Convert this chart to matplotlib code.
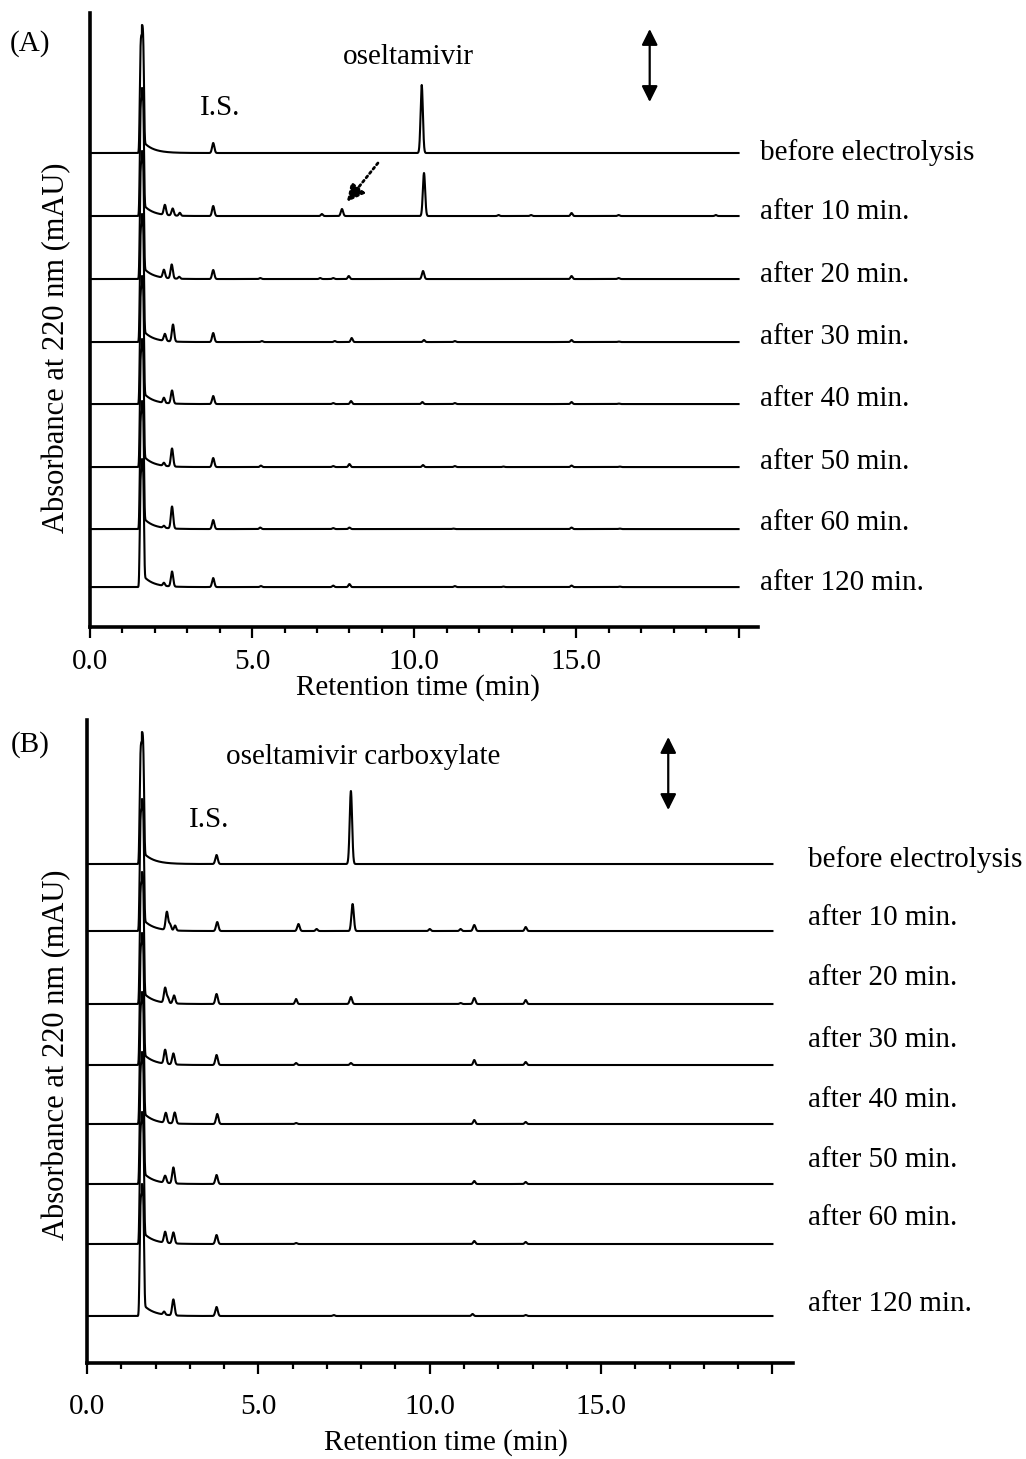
import numpy as np
import matplotlib
matplotlib.use("Agg")
import matplotlib.pyplot as plt

plt.rcParams['font.family'] = ['Liberation Serif', 'DejaVu Serif']

# labels for each trace, top to bottom
trace_labels = ["before electrolysis", "after 10 min.", "after 20 min.",
                "after 30 min.", "after 40 min.", "after 50 min.",
                "after 60 min.", "after 120 min."]

# peak tables (retention time in min, peak height in mAU, arbitrary scale)
# panel A - oseltamivir
peaks_a = [
    [(3.80, 10), (10.23, 68)],
    [(2.31, 10), (2.55, 7), (2.77, 3), (3.80, 10), (7.15, 2), (7.77, 7),
     (10.30, 43), (12.6, 1), (13.6, 1), (14.85, 3), (16.3, 1), (19.3, 1)],
    [(2.28, 8), (2.52, 14), (2.75, 2), (3.80, 9), (5.25, 1), (7.10, 1),
     (7.50, 1), (7.98, 3), (10.27, 8), (14.85, 3), (16.3, 1)],
    [(2.31, 7), (2.56, 17), (3.80, 9), (5.30, 1), (7.55, 1), (8.07, 4),
     (10.30, 2), (11.25, 1), (14.85, 2), (16.3, 0.5)],
    [(2.28, 5), (2.53, 13), (3.80, 8), (7.50, 1), (8.05, 3), (10.25, 2),
     (11.25, 1), (14.85, 2), (16.3, 0.5)],
    [(2.28, 3), (2.53, 18), (3.80, 9), (5.27, 1.5), (7.50, 1), (8.00, 3),
     (10.27, 2), (11.25, 1), (12.75, 0.5), (14.85, 1.5), (16.33, 0.5)],
    [(2.28, 2), (2.53, 22), (3.80, 9), (5.25, 1.5), (7.50, 1), (8.00, 1.5),
     (11.2, 0.5), (14.85, 1.5), (16.33, 0.5)],
    [(2.28, 3), (2.53, 15), (3.80, 9), (5.27, 1), (7.50, 1.5), (8.00, 3),
     (11.25, 1), (12.75, 0.5), (14.85, 1.5), (16.33, 0.5)],
]
# panel B - oseltamivir carboxylate
peaks_b = [
    [(3.78, 9), (7.70, 73)],
    [(2.33, 18), (2.42, 6), (2.57, 5), (3.80, 9), (6.17, 7), (6.70, 2),
     (7.75, 27), (10.0, 2), (10.9, 2), (11.3, 6), (12.8, 4)],
    [(2.28, 15), (2.36, 5), (2.54, 8), (3.78, 10), (6.10, 5), (7.70, 7),
     (10.9, 1), (11.3, 6), (12.8, 4)],
    [(2.28, 14), (2.52, 11), (3.78, 10), (6.10, 2), (7.70, 2), (11.3, 5),
     (12.8, 3)],
    [(2.30, 10), (2.56, 11), (3.80, 10), (6.10, 1), (11.3, 4), (12.8, 2)],
    [(2.28, 7), (2.52, 16), (3.78, 9), (11.3, 3), (12.8, 2)],
    [(2.28, 11), (2.52, 11), (3.78, 9), (6.10, 1), (11.3, 3), (12.8, 2)],
    [(2.25, 3), (2.52, 16), (3.78, 9), (7.20, 1), (11.25, 2), (12.8, 1)],
]
# solvent front (time, height)
solvent_a = (1.60, 118)
solvent_b = (1.60, 122)
solvent_tail = 10

# stacking offsets of each trace (top to bottom)
offsets_a = [474, 411, 348, 285, 223, 160, 98, 40]
offsets_b = [499, 432, 359, 298, 239, 179, 119, 47]
label_y_a = [474, 415, 352, 290, 228, 165, 104, 44]
label_y_b = [503, 445, 385, 323, 263, 203, 145, 59]

run_time = 20.0


def build_trace(peak_list, solvent, t):
    """
    Build chromatogram from the peak table
    :param peak_list: list of (time, height)
    :param solvent: (time, height) of solvent front
    :param t: time array
    :return: signal array
    """
    sig = np.zeros_like(t)
    s_time, s_height = solvent
    # solvent front with steep sides
    sig += s_height * np.exp(-0.5 * ((t - s_time) / 0.06) ** 4)
    tail = solvent_tail * np.exp(-(t - s_time - 0.08) / 0.3)
    sig += np.where(t > s_time, np.minimum(tail, solvent_tail), 0)
    for rt, h in peak_list:
        width = 0.035 if h > 5 else 0.03
        sig += h * np.exp(-0.5 * ((t - rt) / width) ** 2)
    return sig


def style_axis(ax, ylim, pad):
    """
    Set the spines and ticks to look like the original
    """
    ax.set_xlim(0, 20.6)
    ax.set_ylim(0, ylim)
    for side in ["top", "right"]:
        ax.spines[side].set_visible(False)
    ax.spines["left"].set_linewidth(2.6)
    ax.spines["bottom"].set_linewidth(2.6)
    ax.set_yticks([])
    ax.set_xticks([0, 5, 10, 15, 20])
    ax.set_xticklabels(["0.0", "5.0", "10.0", "15.0", ""])
    ax.set_xticks(np.arange(0, 21, 1), minor=True)
    ax.tick_params(axis="x", which="major", direction="out", length=8,
                   width=1.6, labelsize=21, pad=pad)
    ax.tick_params(axis="x", which="minor", direction="out", length=4.5,
                   width=1.6)


def plot_panel(ax, peaks, solvent, offsets, label_y, label_x):
    t = np.arange(0, run_time + 0.0025, 0.0025)
    for pk, off, lab, ly in zip(peaks, offsets, trace_labels, label_y):
        sig = build_trace(pk, solvent, t)
        ax.plot(t, sig + off, color="black", lw=1.5, clip_on=False)
        ax.text(label_x, ly, lab, ha="left", va="center", fontsize=21,
                clip_on=False)


fig = plt.figure(figsize=(10.26, 14.59), dpi=100)
ax_a = fig.add_axes([0.0877, 0.5702, 0.6511, 0.4209])
ax_b = fig.add_axes([0.0848, 0.0658, 0.6881, 0.4407])

# panel A
plot_panel(ax_a, peaks_a, solvent_a, offsets_a, label_y_a, 20.65)
style_axis(ax_a, 614, 8)
ax_a.text(4.01, 519, "I.S.", ha="center", va="center", fontsize=21)
ax_a.text(9.83, 570, "oseltamivir", ha="center", va="center", fontsize=21)
ax_a.annotate("", xy=(17.26, 525), xytext=(17.26, 598),
              arrowprops=dict(arrowstyle="<|-|>", color="black", lw=1.6,
                              mutation_scale=24, shrinkA=0, shrinkB=0))
ax_a.annotate("", xy=(7.92, 425), xytext=(8.88, 464),
              arrowprops=dict(arrowstyle="-|>", color="black", lw=2.0,
                              linestyle=(0, (0.8, 1.2)), mutation_scale=26,
                              shrinkA=0, shrinkB=0))

# panel B
plot_panel(ax_b, peaks_b, solvent_b, offsets_b, label_y_b, 21.05)
style_axis(ax_b, 643, 14)
ax_b.text(3.56, 543, "I.S.", ha="center", va="center", fontsize=21)
ax_b.text(8.06, 606, "oseltamivir carboxylate", ha="center", va="center",
          fontsize=21)
ax_b.annotate("", xy=(16.96, 553), xytext=(16.96, 626),
              arrowprops=dict(arrowstyle="<|-|>", color="black", lw=1.6,
                              mutation_scale=24, shrinkA=0, shrinkB=0))

# panel letters and axis titles
fig.text(0.029, 0.9705, "(A)", ha="center", va="center", fontsize=21)
fig.text(0.029, 0.4894, "(B)", ha="center", va="center", fontsize=21)
fig.text(0.0556, 0.7615, "Absorbance at 220 nm (mAU)", rotation=90,
         ha="center", va="center", fontsize=22)
fig.text(0.0556, 0.2769, "Absorbance at 220 nm (mAU)", rotation=90,
         ha="center", va="center", fontsize=22)
fig.text(418 / 1026, 1 - 688 / 1459, "Retention time (min)", ha="center",
         va="center", fontsize=21)
fig.text(446 / 1026, 1 - 1443 / 1459, "Retention time (min)", ha="center",
         va="center", fontsize=21)

fig.savefig("out.png", dpi=100)
